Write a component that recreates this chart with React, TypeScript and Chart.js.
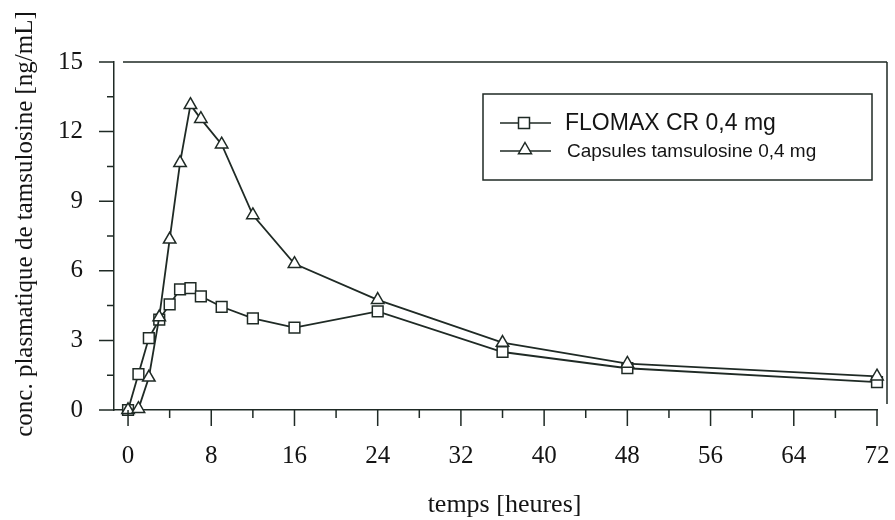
import React, { useEffect, useRef } from 'react';
import { Chart, registerables } from 'chart.js';

Chart.register(...registerables);

// ---- data ----
const hours = [0, 1, 2, 3, 4, 5, 6, 7, 9, 12, 16, 24, 36, 48, 72];
const flomaxCR = [0, 1.55, 3.1, 3.9, 4.55, 5.2, 5.25, 4.9, 4.45, 3.95, 3.55, 4.25, 2.5, 1.8, 1.2];
const capsules = [0, 0.05, 1.4, 4.0, 7.35, 10.65, 13.15, 12.55, 11.45, 8.4, 6.3, 4.75, 2.9, 2.0, 1.45];
const seriesLabels = ['FLOMAX CR 0,4 mg', 'Capsules tamsulosine 0,4 mg'];
const xTickValues = [0, 8, 16, 24, 32, 40, 48, 56, 64, 72];
const xMinorTickValues = [4, 12, 20, 28, 36, 44, 52, 60, 68];
const yTickValues = [0, 3, 6, 9, 12, 15];
const yMinorTickValues = [1.5, 4.5, 7.5, 10.5, 13.5];
const xTitle = 'temps [heures]';
const yTitle = 'conc. plasmatique de tamsulosine [ng/mL]';

const INK = '#1f2a25';
const TEXT = '#141414';
const SERIF = '"Liberation Serif", "Times New Roman", serif';
const SANS = '"Liberation Sans", Arial, sans-serif';

function drawSquare(ctx: CanvasRenderingContext2D, cx: number, cy: number, s: number) {
  ctx.beginPath();
  ctx.rect(cx - s / 2, cy - s / 2, s, s);
  ctx.fillStyle = '#fff';
  ctx.fill();
  ctx.stroke();
}

function drawTriangle(ctx: CanvasRenderingContext2D, cx: number, cy: number, r: number) {
  ctx.beginPath();
  ctx.moveTo(cx, cy - r);
  ctx.lineTo(cx + r * 0.866, cy + r * 0.5);
  ctx.lineTo(cx - r * 0.866, cy + r * 0.5);
  ctx.closePath();
  ctx.fillStyle = '#fff';
  ctx.fill();
  ctx.stroke();
}

const decorPlugin = {
  id: 'decor',
  beforeDraw(chart: any) {
    const { ctx, width, height } = chart;
    ctx.save();
    ctx.fillStyle = '#fff';
    ctx.fillRect(0, 0, width, height);
    ctx.restore();
  },
  afterDraw(chart: any) {
    const { ctx, chartArea: a, scales } = chart;
    const x = scales.x;
    const y = scales.y;
    ctx.save();
    ctx.strokeStyle = INK;
    ctx.lineWidth = 1.5;

    // tick marks
    ctx.beginPath();
    for (const v of yTickValues) {
      const py = y.getPixelForValue(v);
      ctx.moveTo(a.left - 15, py);
      ctx.lineTo(a.left, py);
    }
    for (const v of yMinorTickValues) {
      const py = y.getPixelForValue(v);
      ctx.moveTo(a.left - 7, py);
      ctx.lineTo(a.left, py);
    }
    for (const v of xTickValues) {
      const px = x.getPixelForValue(v);
      ctx.moveTo(px, a.bottom);
      ctx.lineTo(px, a.bottom + 16);
    }
    for (const v of xMinorTickValues) {
      const px = x.getPixelForValue(v);
      ctx.moveTo(px, a.bottom);
      ctx.lineTo(px, a.bottom + 8);
    }
    ctx.stroke();

    // top and right frame lines
    ctx.beginPath();
    ctx.moveTo(a.left + 9, a.top);
    ctx.lineTo(a.right + 10, a.top);
    ctx.moveTo(a.right + 10, a.top);
    ctx.lineTo(a.right + 10, a.bottom - 6);
    ctx.stroke();

    // axis titles
    ctx.fillStyle = TEXT;
    ctx.font = `26px ${SERIF}`;
    ctx.textAlign = 'center';
    ctx.textBaseline = 'alphabetic';
    ctx.fillText(xTitle, x.getPixelForValue(36) + 2, 512);

    ctx.save();
    ctx.translate(32, 224);
    ctx.rotate(-Math.PI / 2);
    ctx.font = `25px ${SERIF}`;
    ctx.fillText(yTitle, 0, 0);
    ctx.restore();

    // legend
    const bx = 483, by = 94, bw = 389, bh = 86;
    ctx.fillStyle = '#fff';
    ctx.fillRect(bx, by, bw, bh);
    ctx.strokeRect(bx, by, bw, bh);

    const rows = [
      { y: 123, font: `23px ${SANS}`, marker: 'rect', textX: 565 },
      { y: 151, font: `19px ${SANS}`, marker: 'tri', textX: 567 },
    ];
    rows.forEach((row, i) => {
      ctx.strokeStyle = INK;
      ctx.lineWidth = 1.6;
      ctx.beginPath();
      ctx.moveTo(500, row.y);
      ctx.lineTo(551, row.y);
      ctx.stroke();
      ctx.lineWidth = 1.5;
      if (row.marker === 'rect') drawSquare(ctx, 524, row.y, 11);
      else drawTriangle(ctx, 525, row.y - 1, 7.5);
      ctx.fillStyle = TEXT;
      ctx.font = row.font;
      ctx.textAlign = 'left';
      ctx.textBaseline = 'middle';
      ctx.fillText(seriesLabels[i], row.textX, row.y + 1);
    });

    ctx.restore();
  },
};

export default function App() {
  const canvasRef = useRef<HTMLCanvasElement | null>(null);

  useEffect(() => {
    const canvas = canvasRef.current;
    if (!canvas) return;
    const chart = new Chart(canvas, {
      type: 'line',
      data: {
        datasets: [
          {
            label: seriesLabels[0],
            data: hours.map((h, i) => ({ x: h, y: flomaxCR[i] })),
            borderColor: INK,
            borderWidth: 1.8,
            pointStyle: 'rect',
            pointRadius: 7.6,
            pointBackgroundColor: '#fff',
            pointBorderColor: INK,
            pointBorderWidth: 1.5,
            tension: 0,
            clip: false as any,
            order: 1,
          },
          {
            label: seriesLabels[1],
            data: hours.map((h, i) => ({ x: h, y: capsules[i] })),
            borderColor: INK,
            borderWidth: 1.8,
            pointStyle: 'triangle',
            pointRadius: 7.2,
            pointBackgroundColor: '#fff',
            pointBorderColor: INK,
            pointBorderWidth: 1.5,
            tension: 0,
            clip: false as any,
            order: 0,
          },
        ],
      },
      options: {
        responsive: false,
        animation: false,
        devicePixelRatio: 1,
        layout: { padding: { top: 62, right: 18, left: 0, bottom: 0 } },
        plugins: {
          legend: { display: false },
          tooltip: { enabled: false },
          title: { display: false },
        },
        scales: {
          x: {
            type: 'linear',
            min: -1.35,
            max: 72,
            afterBuildTicks: (s: any) => {
              s.ticks = xTickValues.map((value) => ({ value }));
            },
            afterFit: (s: any) => {
              s.height = 110;
              s.paddingLeft = 0;
              s.paddingRight = 0;
            },
            grid: { display: false, drawTicks: false },
            border: { display: true, color: INK, width: 1.5 },
            ticks: {
              font: { family: SERIF, size: 25 },
              color: TEXT,
              padding: 31,
              maxRotation: 0,
              autoSkip: false,
            },
          },
          y: {
            type: 'linear',
            min: 0,
            max: 15,
            afterBuildTicks: (s: any) => {
              s.ticks = yTickValues.map((value) => ({ value }));
            },
            afterFit: (s: any) => {
              s.width = 114;
            },
            grid: { display: false, drawTicks: false },
            border: { display: true, color: INK, width: 1.5 },
            ticks: {
              font: { family: SERIF, size: 25 },
              color: TEXT,
              padding: 31,
              autoSkip: false,
            },
          },
        },
      },
      plugins: [decorPlugin],
    });
    return () => chart.destroy();
  }, []);

  return (
    <div style={{ position: 'fixed', left: 0, top: 0, width: 895, height: 520, background: '#fff' }}>
      <canvas ref={canvasRef} width={895} height={520} style={{ display: 'block', width: 895, height: 520 }} />
    </div>
  );
}
